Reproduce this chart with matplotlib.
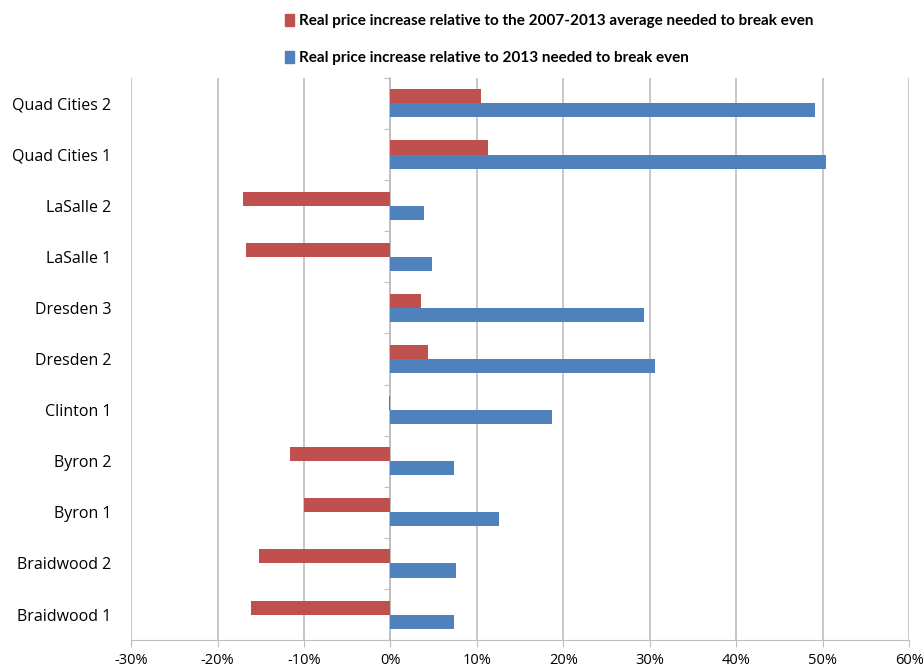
import matplotlib.pyplot as plt
import numpy as np
from matplotlib.patches import Patch
from matplotlib.ticker import FuncFormatter

# plants, bottom to top as drawn
plants = ['Braidwood 1', 'Braidwood 2', 'Byron 1', 'Byron 2', 'Clinton 1',
          'Dresden 2', 'Dresden 3', 'LaSalle 1', 'LaSalle 2',
          'Quad Cities 1', 'Quad Cities 2']
# real price increase relative to 2007-2013 average (%)
vs_avg = [-16.1, -15.2, -10.0, -11.6, -0.2, 4.3, 3.5, -16.7, -17.0, 11.3, 10.5]
# real price increase relative to 2013 (%)
vs_2013 = [7.4, 7.6, 12.6, 7.4, 18.7, 30.6, 29.3, 4.8, 3.9, 50.4, 49.1]

RED = '#C0504D'
BLUE = '#4F81BD'
GRID = '#BEBEBE'

plt.rcParams['font.family'] = ['Open Sans', 'DejaVu Sans']

fig = plt.figure(figsize=(9.23, 6.71), dpi=100)
ax = fig.add_axes([0.142, 0.046, 0.843, 0.838])

y = np.arange(len(plants))
h = 0.275
ax.barh(y + h/2, vs_avg, height=h, color=RED, zorder=3)
ax.barh(y - h/2, vs_2013, height=h, color=BLUE, zorder=3)

ax.set_xlim(-30, 60)
ax.set_ylim(-0.5, len(plants) - 0.5)
ax.set_xticks(np.arange(-30, 61, 10))
ax.xaxis.set_major_formatter(FuncFormatter(lambda v, p: '%d%%' % v))
ax.set_yticks(y)
ax.set_yticklabels(plants, fontsize=11.5)
ax.tick_params(axis='y', length=0, pad=14)
ax.tick_params(axis='x', length=5, color=GRID, labelsize=10.5, pad=4)

ax.grid(axis='x', color=GRID, linewidth=1.2, zorder=0)
for s in ['top', 'right', 'left']:
    ax.spines[s].set_visible(False)
ax.spines['bottom'].set_color(GRID)

# vertical axis at 0% with category tick marks
sec = ax.secondary_yaxis((0 - (-30)) / 90)
sec.set_yticks(np.arange(-0.5, len(plants), 1.0))
sec.set_yticklabels([])
sec.tick_params(axis='y', length=4, color=GRID, direction='out')
sec.spines['left'].set_color(GRID)
sec.spines['left'].set_linewidth(1.2)

handles = [Patch(color=RED), Patch(color=BLUE)]
labels = ['Real price increase relative to the 2007-2013 average needed to break even',
          'Real price increase relative to 2013 needed to break even']
fig.legend(handles, labels, loc='upper left', bbox_to_anchor=(0.294, 1.0),
           frameon=False, handlelength=0.6, handleheight=0.9, handletextpad=0.3,
           labelspacing=1.45,
           prop={'family': ['Lato', 'DejaVu Sans'], 'size': 11, 'weight': 'bold'})

fig.savefig('out.png', dpi=100)
